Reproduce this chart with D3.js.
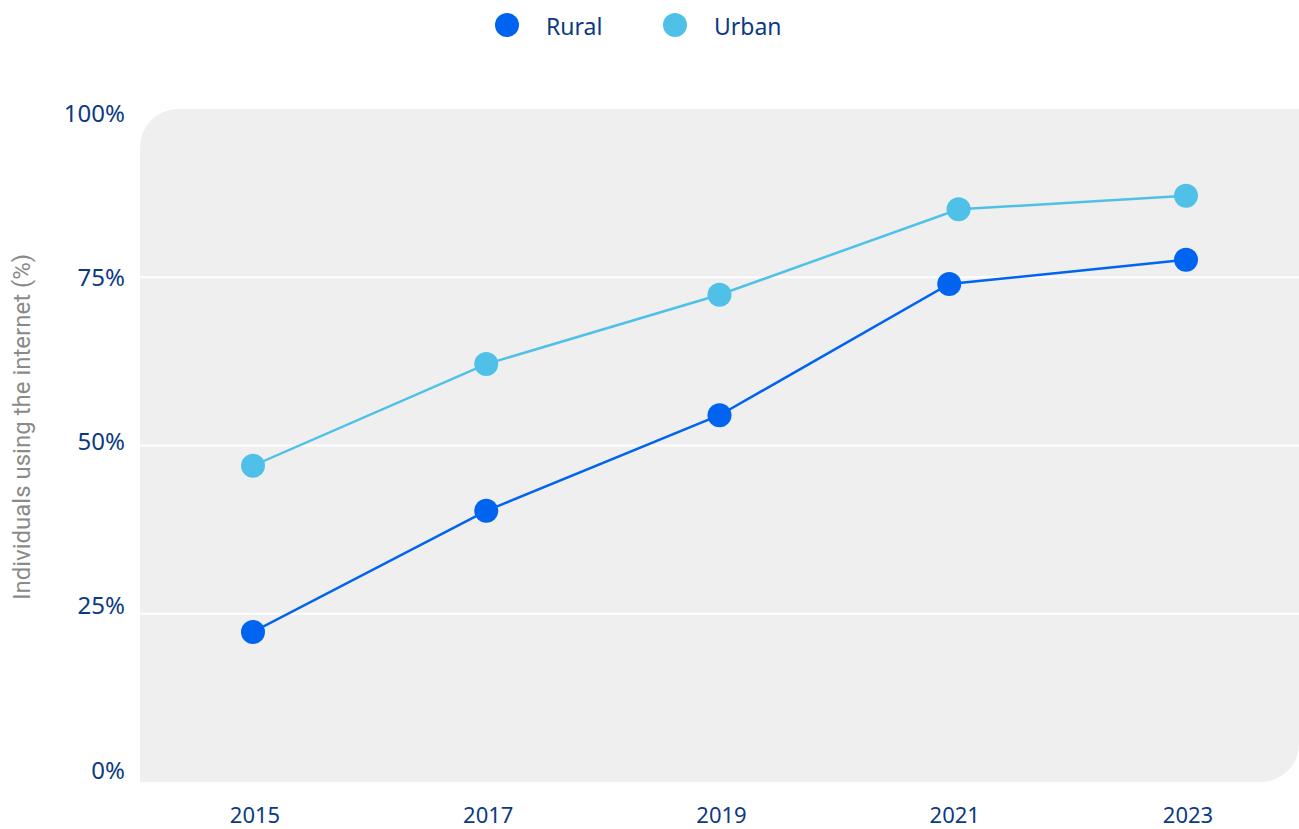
<!DOCTYPE html>
<html>
<head>
<meta charset="utf-8">
<script src="https://cdn.jsdelivr.net/npm/d3@7"></script>
<style>
  html, body { margin: 0; padding: 0; background: #ffffff; }
  svg { display: block; }
</style>
</head>
<body>
<svg id="chart" width="1299" height="829"></svg>
<script>
// ---- data ----
const tickYears = [2015, 2017, 2019, 2021, 2023];
const ruralYears = [2015, 2017, 2019, 2020.97, 2023];
const ruralValues = [22.3, 40.3, 54.5, 74.0, 77.6];
const urbanYears = [2015, 2017, 2019, 2021.05, 2023];
const urbanValues = [47.0, 62.1, 72.4, 85.1, 87.1];
const yTicks = [0, 25, 50, 75, 100];
const seriesNames = ["Rural", "Urban"];
const seriesColors = ["#0064f0", "#4fc1e8"];

// ---- layout ----
const W = 1299, H = 829;
const plot = { left: 140, right: 1299, top: 109, bottom: 782 };
const svg = d3.select("#chart");
const textColor = "#0b3a83";

const x = d3.scaleLinear().domain([2015, 2023]).range([plot.left + 113, plot.right - 113]);
const y = d3.scaleLinear().domain([0, 100]).range([plot.bottom, plot.top]);
const yLab = d3.scaleLinear().domain([0, 100]).range([plot.bottom - 13, plot.top + 3]);

// plot background with rounded top-left and bottom-right corners
const r = 38;
const bg = d3.path();
bg.moveTo(plot.left, plot.bottom);
bg.lineTo(plot.left, plot.top + r);
bg.arcTo(plot.left, plot.top, plot.left + r, plot.top, r);
bg.lineTo(plot.right, plot.top);
bg.lineTo(plot.right, plot.bottom - r);
bg.arcTo(plot.right, plot.bottom, plot.right - r, plot.bottom, r);
bg.closePath();
svg.append("path").attr("d", bg.toString()).attr("fill", "#efefef");

// gridlines
svg.append("g").selectAll("line")
  .data(yTicks.filter(d => d > 0 && d < 100))
  .join("line")
  .attr("x1", plot.left).attr("x2", plot.right)
  .attr("y1", d => y(d)).attr("y2", d => y(d))
  .attr("stroke", "#ffffff").attr("stroke-width", 2);

// y labels
svg.append("g").selectAll("text")
  .data(yTicks)
  .join("text")
  .attr("x", 125)
  .attr("y", d => yLab(d))
  .attr("text-anchor", "end")
  .attr("dominant-baseline", "central")
  .attr("font-family", "'Noto Sans', sans-serif")
  .attr("font-size", 24)
  .attr("fill", textColor)
  .text(d => d + "%");

// x labels
svg.append("g").selectAll("text")
  .data(tickYears)
  .join("text")
  .attr("x", d => x(d) + 2)
  .attr("y", 814)
  .attr("text-anchor", "middle")
  .attr("dominant-baseline", "central")
  .attr("font-family", "'Noto Sans', sans-serif")
  .attr("font-size", 22)
  .attr("fill", textColor)
  .text(d => d);

// y axis title
svg.append("text")
  .attr("transform", `translate(22, 427) rotate(-90)`)
  .attr("text-anchor", "middle")
  .attr("dominant-baseline", "central")
  .attr("font-family", "Roboto, sans-serif")
  .attr("font-size", 24)
  .attr("fill", "#8a8a8a")
  .text("Individuals using the internet (%)");

// series
const series = [
  { name: seriesNames[0], color: seriesColors[0], pts: ruralYears.map((yr, i) => [yr, ruralValues[i]]) },
  { name: seriesNames[1], color: seriesColors[1], pts: urbanYears.map((yr, i) => [yr, urbanValues[i]]) }
];
const line = d3.line().x(d => x(d[0])).y(d => y(d[1]));
series.forEach(s => {
  svg.append("path")
    .attr("d", line(s.pts))
    .attr("fill", "none")
    .attr("stroke", s.color)
    .attr("stroke-width", 2.5);
  svg.append("g").selectAll("circle")
    .data(s.pts)
    .join("circle")
    .attr("cx", d => x(d[0]))
    .attr("cy", d => y(d[1]))
    .attr("r", 12)
    .attr("fill", s.color);
});

// legend
const legendX = [507, 675];
const leg = svg.append("g");
series.forEach((s, i) => {
  leg.append("circle").attr("cx", legendX[i]).attr("cy", 25).attr("r", 12).attr("fill", s.color);
  leg.append("text")
    .attr("x", legendX[i] + 39)
    .attr("y", 26)
    .attr("dominant-baseline", "central")
    .attr("font-family", "'Noto Sans', sans-serif")
    .attr("font-size", 23)
    .attr("fill", textColor)
    .text(s.name);
});
</script>
</body>
</html>
